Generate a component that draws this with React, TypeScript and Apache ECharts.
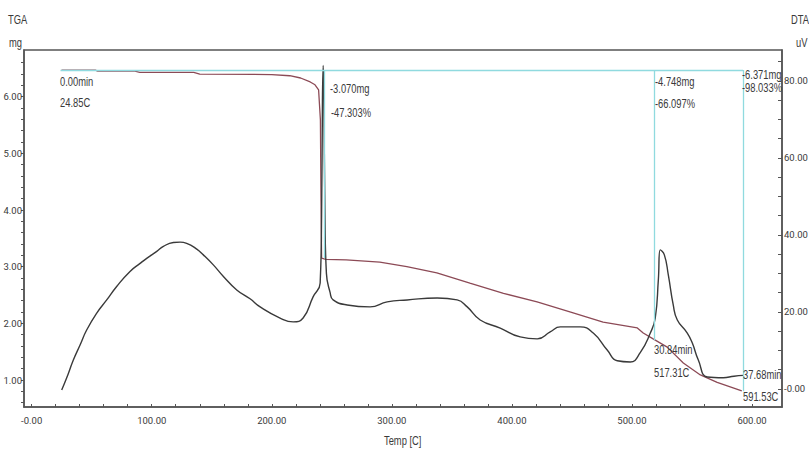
import React, { useEffect, useRef } from "react";
import * as echarts from "echarts";

// TGA curve (temperature °C, mass mg)
const tgaTemp = [24.85, 53, 55, 86, 90, 135, 140, 200, 215, 224, 232, 236, 239, 240.5, 241, 241.5, 245, 262, 290, 312.5, 337.5, 365, 393, 421, 449, 476, 504.5, 509.4, 517.3, 529.4, 542.8, 557, 571, 591.5];
const tgaMass = [6.47, 6.47, 6.45, 6.45, 6.43, 6.43, 6.40, 6.39, 6.37, 6.33, 6.26, 6.21, 6.12, 5.59, 4.17, 3.15, 3.13, 3.12, 3.08, 3.0, 2.89, 2.71, 2.53, 2.38, 2.2, 2.02, 1.92, 1.83, 1.73, 1.58, 1.30, 1.09, 0.96, 0.81];

// DTA curve (temperature °C, signal uV)
const dtaTemp = [25, 29.1, 34.7, 40.3, 45.8, 54.2, 62.5, 70.8, 81.9, 90.3, 95.8, 104.2, 109.7, 118, 123.6, 129.1, 137.5, 143, 151.3, 159.7, 170.8, 181.9, 190.3, 206.9, 217.8, 226.1, 234.4, 240.3, 241.5, 242.2, 242.8, 243.4, 244.3, 245.5, 248.6, 251.1, 262.8, 281.9, 296.1, 312.8, 337.8, 354.4, 362.8, 373.6, 390.3, 406.9, 421.1, 431.9, 440.3, 456.9, 467.8, 479.4, 487.8, 498.6, 506.9, 515.3, 519.4, 522, 523.6, 527, 530.3, 534.4, 537.8, 546.1, 550.3, 555.3, 562.8, 576.1, 585, 592.8];
const dtaSignal = [-0.3, 2.8, 7.5, 11.4, 15.3, 19.7, 23.1, 26.6, 30.5, 32.6, 33.9, 35.7, 37.0, 38.0, 38.1, 37.8, 36.3, 34.8, 32.2, 29.2, 25.7, 23.4, 21.3, 18.4, 17.4, 18.4, 23.9, 27.5, 45, 75, 84, 75, 45, 30, 25, 23.1, 21.8, 21.3, 22.6, 23.1, 23.6, 23.1, 21.3, 17.9, 15.8, 13.5, 13.0, 14.8, 16.1, 16.1, 14.5, 10.1, 7.3, 7.0, 9.4, 14.5, 18.4, 28.3, 36.1, 34.8, 29.6, 21.8, 17.9, 14.5, 11.9, 7.5, 3.1, 2.9, 3.3, 3.5];

// Axis ticks / labels
const xLabels = [0, 100, 200, 300, 400, 500, 600];
const xTicks = Array.from({ length: 31 }, (_, i) => i * 20);
const tgaLabels = [1, 2, 3, 4, 5, 6];
const tgaTicks = Array.from({ length: 31 }, (_, i) => +(0.6 + i * 0.2).toFixed(1));
const dtaLabels = [0, 20, 40, 60, 80];
const dtaTicks = Array.from({ length: 18 }, (_, i) => i * 5);

// Analysis markers
const baseLevel = 6.47;
const startTemp = 24;
const stepTemps = [244, 518.5, 592.5];
const stepLevels = [3.15, 1.7, 0.8];

const AXFONT = "Roboto, 'Liberation Sans', sans-serif";
const NFONT = "'Liberation Sans', Roboto, sans-serif";
const TXT = "#3a3a3a";

const annotations: [string, number, number][] = [
  ["0.00min", 60, 82],
  ["24.85C", 60, 103],
  ["-3.070mg", 330, 89],
  ["-47.303%", 331, 113],
  ["-4.748mg", 655, 82],
  ["-66.097%", 655, 104],
  ["-6.371mg", 742, 75],
  ["-98.033%", 742, 88],
  ["30.84min", 654, 350],
  ["517.31C", 654, 373],
  ["37.68min", 743, 375],
  ["591.53C", 743, 397],
];

const fmt = (v: number) => (v === 0 ? "-0.00" : v.toFixed(2));

export default function App() {
  const ref = useRef<HTMLDivElement>(null);
  useEffect(() => {
    if (!ref.current) return;
    const chart = echarts.init(ref.current, null, { renderer: "svg" });
    const markLines: any[] = [
      [{ coord: [startTemp, baseLevel] }, { coord: [stepTemps[2], baseLevel] }],
      ...stepTemps.map((t, i) => [{ coord: [t, baseLevel] }, { coord: [t, stepLevels[i]] }]),
    ];
    const txt = (s: string, x: number, y: number) => ({
      type: "text",
      x,
      y,
      scaleX: 0.78,
      style: { text: s, fill: TXT, font: `12px ${NFONT}`, textVerticalAlign: "middle" },
      z: 10,
    });
    const axLabel = (vals: number[], margin: number) => ({
      customValues: vals, formatter: fmt, color: TXT, fontFamily: AXFONT, fontSize: 9.5, margin,
    });
    chart.setOption({
      animation: false,
      backgroundColor: "#ffffff",
      grid: {
        left: 24, right: 27, top: 50, bottom: 43,
        outerBoundsMode: "none", containLabel: false,
        show: true, borderColor: "#555", borderWidth: 1.5,
      },
      xAxis: {
        type: "value",
        min: -6.4,
        max: 625,
        splitLine: { show: false },
        axisLine: { show: true, onZero: false, lineStyle: { color: "#555", width: 1.5 } },
        axisTick: { show: true, inside: true, length: 3, customValues: xTicks, lineStyle: { color: "#555" } },
        axisLabel: axLabel(xLabels, 8),
      },
      yAxis: [
        {
          type: "value",
          min: 0.524,
          max: 6.824,
          position: "left",
          splitLine: { show: false },
          axisLine: { show: true, onZero: false, lineStyle: { color: "#555", width: 1.5 } },
          axisTick: { show: true, length: 3, customValues: tgaTicks, lineStyle: { color: "#555" } },
          axisLabel: axLabel(tgaLabels, 2),
        },
        {
          type: "value",
          min: -4.7,
          max: 88,
          position: "right",
          splitLine: { show: false },
          axisLine: { show: true, onZero: false, lineStyle: { color: "#555", width: 1.5 } },
          axisTick: { show: true, inside: true, length: 4, customValues: dtaTicks, lineStyle: { color: "#555" } },
          axisLabel: axLabel(dtaLabels, 2),
        },
      ],
      series: [
        {
          type: "line",
          name: "TGA",
          yAxisIndex: 0,
          data: tgaTemp.map((t, i) => [t, tgaMass[i]]),
          showSymbol: false,
          lineStyle: { color: "#8c4a56", width: 1.3 },
          z: 3,
          markLine: {
            symbol: "none",
            silent: true,
            label: { show: false },
            lineStyle: { color: "#90dadf", width: 1.3, type: "solid" },
            data: markLines,
          },
        },
        {
          type: "line",
          name: "DTA",
          yAxisIndex: 1,
          data: dtaTemp.map((t, i) => [t, dtaSignal[i]]),
          showSymbol: false,
          smooth: 0.5,
          lineStyle: { color: "#3a3a3a", width: 1.4 },
          z: 4,
        },
      ],
      graphic: [
        txt("TGA", 8, 20),
        txt("mg", 9, 43),
        txt("DTA", 791, 20),
        txt("uV", 796, 43),
        txt("Temp [C]", 384, 441),
        ...annotations.map(([s, x, y]) => txt(s, x, y)),
      ],
    });
    return () => chart.dispose();
  }, []);
  return <div ref={ref} style={{ position: "absolute", left: 0, top: 0, width: 809, height: 450, background: "#fff" }} />;
}
